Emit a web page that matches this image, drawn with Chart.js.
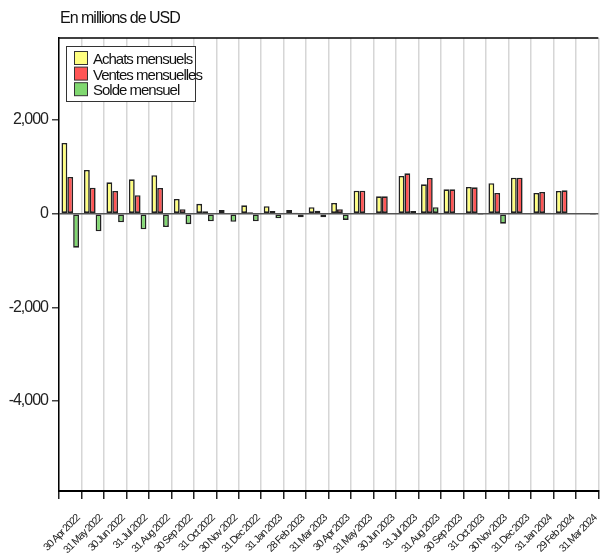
<!DOCTYPE html>
<html>
<head>
<meta charset="utf-8">
<script src="https://cdn.jsdelivr.net/npm/chart.js@4.4.0/dist/chart.umd.min.js"></script>
<style>
  html, body { margin: 0; padding: 0; overflow: hidden; background: #fff; }
  #wrap { width: 609px; height: 555px; }
</style>
</head>
<body>
<div id="wrap"><canvas id="myChart" width="609" height="555"></canvas></div>
<script>
// values (millions USD)
const months = ['30 Apr 2022', '31 May 2022', '30 Jun 2022', '31 Jul 2022', '31 Aug 2022', '30 Sep 2022',
    '31 Oct 2022', '30 Nov 2022', '31 Dec 2022', '31 Jan 2023', '28 Feb 2023', '31 Mar 2023',
    '30 Apr 2023', '31 May 2023', '30 Jun 2023', '31 Jul 2023', '31 Aug 2023', '30 Sep 2023',
    '31 Oct 2023', '30 Nov 2023', '31 Dec 2023', '31 Jan 2024', '29 Feb 2024', '31 Mar 2024'];
const achats = [1510, 933, 670, 734, 820, 314, 210, 76, 179, 160, 79, 137, 228, 491, 371, 805, 627, 520, 570, 649, 769, 442, 484, 0];
const ventes = [783, 555, 485, 393, 549, 94, 54, 12, 30, 58, 21, 64, 94, 491, 371, 862, 762, 520, 563, 442, 769, 463, 499, 0];
const solde = [-726, -376, -184, -333, -285, -224, -162, -172, -162, -98, -77, -77, -134, 0, 0, 58, 137, 0, -6, -213, 0, 20, 14, -5];
const yTicks = [-4000, -2000, 0, 2000];
const titleText = 'En millions de USD';

const FONT = "'Liberation Sans', Arial, sans-serif";

const extras = {
    id: 'extras',
    beforeUpdate(chart) { chart.ctx.letterSpacing = '-1px'; },
    beforeDraw(chart) { chart.ctx.letterSpacing = '-1px'; },
    afterDraw(chart) {
        const ctx = chart.ctx;
        const a = chart.chartArea;
        ctx.save();
        // top frame line
        ctx.strokeStyle = '#000';
        ctx.lineWidth = 1.5;
        ctx.beginPath();
        ctx.moveTo(a.left, a.top);
        ctx.lineTo(a.right, a.top);
        ctx.stroke();

        // title
        ctx.letterSpacing = '-1px';
        ctx.fillStyle = '#111';
        ctx.font = '16px ' + FONT;
        ctx.textAlign = 'left';
        ctx.textBaseline = 'alphabetic';
        ctx.fillText(titleText, 60, 23);

        // legend box
        ctx.font = '15px ' + FONT;
        ctx.fillStyle = '#fff';
        ctx.fillRect(66.5, 46.5, 129, 55);
        ctx.strokeStyle = '#333';
        ctx.lineWidth = 1;
        ctx.strokeRect(66.5, 46.5, 129, 55);
        chart.data.datasets.forEach(function(ds, i) {
            const y = 51 + i * 15.6;
            ctx.fillStyle = ds.backgroundColor;
            ctx.fillRect(74.5, y + 0.5, 13, 13);
            ctx.strokeStyle = '#333';
            ctx.strokeRect(74.5, y + 0.5, 13, 13);
            ctx.fillStyle = '#111';
            ctx.fillText(ds.label, 93, y + 13);
        });
        ctx.restore();
    }
};

const ctx = document.getElementById('myChart').getContext('2d');
const myChart = new Chart(ctx, {
    type: 'bar',
    data: {
        labels: months,
        datasets: [{
            label: 'Achats mensuels',
            data: achats,
            backgroundColor: '#ffff80'
        }, {
            label: 'Ventes mensuelles',
            data: ventes,
            backgroundColor: '#ff5555'
        }, {
            label: 'Solde mensuel',
            data: solde,
            backgroundColor: '#80d870'
        }]
    },
    options: {
        responsive: false,
        animation: false,
        layout: { padding: { top: 38, left: 0, right: 0, bottom: 0 } },
        datasets: {
            bar: {
                borderColor: '#222',
                borderWidth: 1.6,
                borderSkipped: false,
                barPercentage: 1.0,
                categoryPercentage: 0.78
            }
        },
        plugins: {
            legend: { display: false },
            title: { display: false },
            tooltip: { enabled: false }
        },
        scales: {
            x: {
                offset: true,
                grid: {
                    offset: true,
                    color: '#d6d6d6',
                    lineWidth: 1.5,
                    tickColor: '#222',
                    tickLength: 8,
                    tickWidth: 1.5
                },
                border: { color: '#000', width: 2 },
                ticks: {
                    autoSkip: false,
                    minRotation: 45,
                    maxRotation: 45,
                    padding: 13,
                    labelOffset: 8,
                    color: '#222',
                    font: { family: FONT, size: 10.5 }
                },
                afterFit: function(scale) { scale.height = 64; }
            },
            y: {
                min: -5920,
                max: 3750,
                afterBuildTicks: function(scale) {
                    scale.ticks = yTicks.map(v => ({ value: v }));
                },
                grid: {
                    color: c => (c.tick && c.tick.value === 0) ? '#555' : 'rgba(0,0,0,0)',
                    lineWidth: 1.5,
                    tickColor: '#444',
                    tickLength: 7
                },
                border: { color: '#000', width: 1.5 },
                ticks: {
                    padding: 4,
                    color: '#222',
                    font: { family: FONT, size: 16 },
                    callback: v => v.toLocaleString('en-US')
                },
                afterFit: function(scale) { scale.width = 59; }
            }
        }
    },
    plugins: [extras]
});
</script>
</body>
</html>
